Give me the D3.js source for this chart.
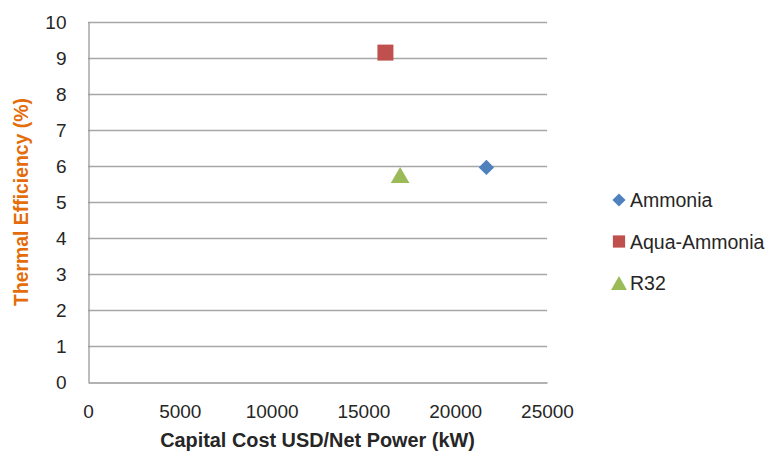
<!DOCTYPE html>
<html>
<head>
<meta charset="utf-8">
<script src="https://cdn.jsdelivr.net/npm/d3@7"></script>
<style>
  html, body { margin: 0; padding: 0; background: #fff; }
  svg { display: block; font-family: "Liberation Sans", Arial, sans-serif; }
</style>
</head>
<body>
<svg id="chart" width="774" height="457"></svg>
<script>
// Refrigerants compared: capital cost per net power vs thermal efficiency
const seriesNames = ["Ammonia", "Aqua-Ammonia", "R32"];
const capitalCost = [21700, 16200, 17000];      // USD / net kW
const thermalEfficiency = [5.96, 9.15, 5.75];   // %
const seriesColors = ["#4F81BD", "#C0504D", "#9BBB59"];
const seriesSymbols = [d3.symbolDiamond2, d3.symbolSquare, d3.symbolTriangle];
const xTicks = [0, 5000, 10000, 15000, 20000, 25000];
const yTicks = [0, 1, 2, 3, 4, 5, 6, 7, 8, 9, 10];

const svg = d3.select("#chart");
const plot = { left: 88, right: 547, top: 22, bottom: 382 };

const x = d3.scaleLinear().domain([0, 25000]).range([plot.left, plot.right]);
const y = d3.scaleLinear().domain([0, 10]).range([plot.bottom, plot.top]);

// horizontal gridlines
svg.append("g")
  .selectAll("line")
  .data(yTicks.filter(t => t > 0))
  .join("line")
  .attr("x1", plot.left).attr("x2", plot.right)
  .attr("y1", d => Math.round(y(d)) + 0.5).attr("y2", d => Math.round(y(d)) + 0.5)
  .attr("stroke", "#a6a6a6").attr("stroke-width", 1.3);

// y axis
const yAxis = svg.append("g")
  .attr("transform", `translate(${plot.left + 0.5},0)`)
  .call(d3.axisLeft(y).tickValues(yTicks).tickFormat(d3.format("d")).tickSize(0).tickPadding(22));
yAxis.select(".domain").attr("stroke", "#999").attr("stroke-width", 1.3);
yAxis.selectAll("text").attr("font-size", 19).attr("fill", "#262626")
  .attr("font-family", "Liberation Sans, Arial, sans-serif");

// x axis
const xAxis = svg.append("g")
  .attr("transform", `translate(0,${plot.bottom + 0.5})`)
  .call(d3.axisBottom(x).tickValues(xTicks).tickFormat(d3.format("d")).tickSize(0).tickPadding(22));
xAxis.select(".domain").attr("stroke", "#999").attr("stroke-width", 1.3);
xAxis.selectAll("text").attr("font-size", 19).attr("fill", "#262626")
  .attr("font-family", "Liberation Sans, Arial, sans-serif");

// points
const points = seriesNames.map((name, i) => ({
  name, cost: capitalCost[i], eff: thermalEfficiency[i],
  color: seriesColors[i], symbol: seriesSymbols[i]
}));

// d3's triangle sits on its centroid; shift it so its bounding box is centred instead
function symbolOffset(symbol, size) {
  if (symbol !== d3.symbolTriangle) return 0;
  const side = Math.sqrt(size * 4 / Math.sqrt(3));
  return side * Math.sqrt(3) / 2 / 6;
}

const markerSize = { "Ammonia": 150, "Aqua-Ammonia": 256, "R32": 150 };
svg.append("g")
  .selectAll("path")
  .data(points)
  .join("path")
  .attr("transform", d => `translate(${x(d.cost)},${y(d.eff) + symbolOffset(d.symbol, markerSize[d.name])})`)
  .attr("d", d => d3.symbol().type(d.symbol).size(markerSize[d.name])())
  .attr("fill", d => d.color);

// axis titles
function fitText(sel, width) {
  const len = sel.node().getComputedTextLength();
  const fs = parseFloat(sel.attr("font-size"));
  sel.attr("font-size", fs * width / len);
}

const xTitle = svg.append("text")
  .attr("x", (plot.left + plot.right) / 2)
  .attr("y", 447)
  .attr("text-anchor", "middle")
  .attr("font-size", 18).attr("font-weight", "bold").attr("fill", "#262626")
  .text("Capital Cost USD/Net Power (kW)");
fitText(xTitle, 315);

const yTitle = svg.append("text")
  .attr("transform", "translate(28,202) rotate(-90)")
  .attr("text-anchor", "middle")
  .attr("font-size", 18).attr("font-weight", "bold").attr("fill", "#E46C0A")
  .text("Thermal Efficiency (%)");
fitText(yTitle, 208);

// legend
const legend = svg.append("g")
  .selectAll("g")
  .data(points)
  .join("g")
  .attr("transform", (d, i) => `translate(619,${200 + i * 41.5})`);
const legendSize = { "Ammonia": 110, "Aqua-Ammonia": 150, "R32": 110 };
legend.append("path")
  .attr("transform", d => `translate(0,${symbolOffset(d.symbol, legendSize[d.name])})`)
  .attr("d", d => d3.symbol().type(d.symbol).size(legendSize[d.name])())
  .attr("fill", d => d.color);
legend.append("text")
  .attr("x", 11).attr("y", 7)
  .attr("font-size", 19.5).attr("fill", "#262626")
  .text(d => d.name);
</script>
</body>
</html>
